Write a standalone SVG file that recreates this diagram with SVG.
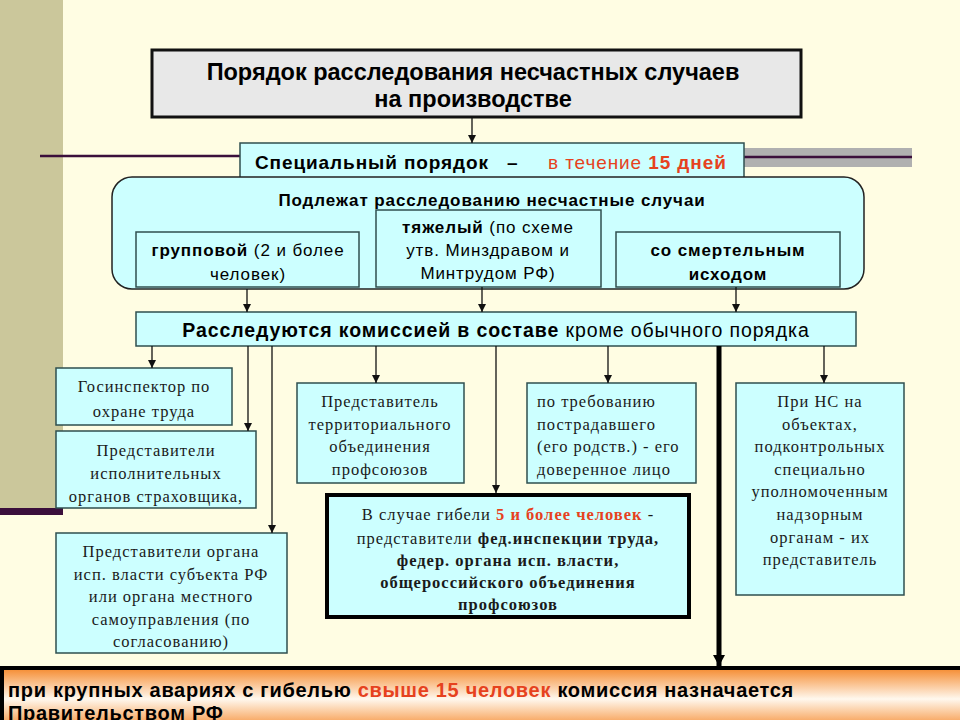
<svg xmlns="http://www.w3.org/2000/svg" width="960" height="720" viewBox="0 0 960 720">
<defs>
<marker id="ah" markerUnits="userSpaceOnUse" markerWidth="9" markerHeight="9" refX="8" refY="4.5" orient="auto"><path d="M0,0.5 L8,4.5 L0,8.5 z" fill="#111"/></marker>
<marker id="ahb" markerUnits="userSpaceOnUse" markerWidth="12" markerHeight="12" refX="11" refY="6" orient="auto"><path d="M0,0 L11,6 L0,12 z" fill="#000"/></marker>
<linearGradient id="og" x1="0" y1="0" x2="0" y2="1">
<stop offset="0" stop-color="#F58A2E"/>
<stop offset="0.5" stop-color="#FFF8EE"/>
<stop offset="1" stop-color="#F58A2E"/>
</linearGradient>
<style>
.sans{font-family:"Liberation Sans",Arial,sans-serif;fill:#000}
.ls{letter-spacing:0.9px}
.serif{font-family:"Liberation Serif","Times New Roman",serif;fill:#1a1a1a;font-size:16.5px;letter-spacing:1px}
.b{font-weight:bold}
.red{fill:#E6421E}
.box{fill:#CCFFFF;stroke:#2F4F4F;stroke-width:1.5}
.con{stroke:#111;stroke-width:1.3;fill:none;marker-end:url(#ah)}
</style>
</defs>
<rect width="960" height="720" fill="#FFFDE3"/>
<rect x="0" y="0" width="63" height="509" fill="#CBC79B"/>
<rect x="0" y="508" width="63" height="7" fill="#3B0F3B"/>
<line x1="40" y1="156" x2="240" y2="156" stroke="#3B0F3B" stroke-width="2.5"/>
<rect x="744" y="148" width="168" height="19" fill="#B0B0B0"/>
<line x1="744" y1="157" x2="912" y2="157" stroke="#3B0F3B" stroke-width="2.5"/>

<g id="title">
<rect x="152" y="50" width="649" height="67" fill="#E8E8E8" stroke="#111" stroke-width="3"/>
<text class="sans b" x="473" y="80" font-size="23.5" text-anchor="middle">Порядок расследования несчастных случаев</text>
<text class="sans b" x="473" y="107" font-size="23.5" text-anchor="middle">на производстве</text>
</g>

<g id="special">
<rect class="box" x="240" y="143" width="504" height="36"/>
<text class="sans b ls" x="255" y="169" font-size="19">Специальный порядок</text>
<text class="sans b" x="507" y="169" font-size="19">–</text>
<text class="sans red ls" x="548" y="169" font-size="19">в течение <tspan class="b red">15 дней</tspan></text>
</g>

<g id="cases">
<rect x="112" y="177" width="752" height="112" rx="20" ry="20" fill="#CCFFFF" stroke="#222" stroke-width="1.5"/>
<text class="sans b ls" x="492" y="206" font-size="17" text-anchor="middle">Подлежат расследованию несчастные случаи</text>
</g>

<g id="group">
<rect class="box" x="136" y="232" width="223" height="55"/>
<text class="sans ls" x="248" y="256" font-size="17" text-anchor="middle"><tspan class="b">групповой</tspan> (2 и более</text>
<text class="sans ls" x="248" y="280" font-size="17" text-anchor="middle">человек)</text>
</g>

<g id="heavy">
<rect class="box" x="376" y="210" width="225" height="77"/>
<text class="sans ls" x="488" y="233" font-size="17" text-anchor="middle"><tspan class="b">тяжелый</tspan> (по схеме</text>
<text class="sans ls" x="488" y="256" font-size="17" text-anchor="middle">утв. Минздравом и</text>
<text class="sans ls" x="488" y="279" font-size="17" text-anchor="middle">Минтрудом РФ)</text>
</g>

<g id="fatal">
<rect class="box" x="616" y="232" width="224" height="55"/>
<text class="sans b ls" x="728" y="256" font-size="17" text-anchor="middle">со смертельным</text>
<text class="sans b ls" x="728" y="280" font-size="17" text-anchor="middle">исходом</text>
</g>

<g id="commission">
<rect class="box" x="136" y="312" width="720" height="34"/>
<text class="sans ls" x="496" y="337" font-size="19.5" text-anchor="middle"><tspan class="b">Расследуются комиссией в составе</tspan> кроме обычного порядка</text>
</g>

<g id="inspector">
<rect class="box" x="56" y="368" width="176" height="57"/>
<text class="serif" x="144" y="392" text-anchor="middle">Госинспектор по</text>
<text class="serif" x="144" y="417" text-anchor="middle">охране труда</text>
</g>

<g id="insurer">
<rect class="box" x="56" y="431" width="200" height="77"/>
<text class="serif" x="156" y="456" text-anchor="middle">Представители</text>
<text class="serif" x="156" y="479" text-anchor="middle">исполнительных</text>
<text class="serif" x="156" y="502" text-anchor="middle">органов страховщика,</text>
</g>

<g id="regional">
<rect class="box" x="56" y="533" width="231" height="120"/>
<text class="serif" x="171" y="557" text-anchor="middle">Представители органа</text>
<text class="serif" x="171" y="580" text-anchor="middle">исп. власти субъекта РФ</text>
<text class="serif" x="171" y="602" text-anchor="middle">или органа местного</text>
<text class="serif" x="171" y="625" text-anchor="middle">самоуправления (по</text>
<text class="serif" x="171" y="647" text-anchor="middle">согласованию)</text>
</g>

<g id="union">
<rect class="box" x="297" y="383" width="167" height="100"/>
<text class="serif" x="380" y="407" text-anchor="middle">Представитель</text>
<text class="serif" x="380" y="430" text-anchor="middle">территориального</text>
<text class="serif" x="380" y="452" text-anchor="middle">объединения</text>
<text class="serif" x="380" y="475" text-anchor="middle">профсоюзов</text>
</g>

<g id="victim">
<rect class="box" x="527" y="383" width="169" height="100"/>
<text class="serif" x="537" y="407">по требованию</text>
<text class="serif" x="537" y="430">пострадавшего</text>
<text class="serif" x="537" y="452">(его родств.) - его</text>
<text class="serif" x="537" y="475">доверенное лицо</text>
</g>

<g id="fatal5">
<rect x="327" y="495" width="362" height="122" fill="#CCFFFF" stroke="#000" stroke-width="4"/>
<text class="serif" x="508" y="520" text-anchor="middle">В случае гибели <tspan class="b red">5 и более человек</tspan> -</text>
<text class="serif" x="508" y="544" text-anchor="middle">представители <tspan class="b">фед.инспекции труда,</tspan></text>
<text class="serif b" x="508" y="566" text-anchor="middle">федер. органа исп. власти,</text>
<text class="serif b" x="508" y="588" text-anchor="middle">общероссийского объединения</text>
<text class="serif b" x="508" y="610" text-anchor="middle">профсоюзов</text>
</g>

<g id="supervision">
<rect class="box" x="736" y="383" width="168" height="212"/>
<text class="serif" x="820" y="407" text-anchor="middle">При НС на</text>
<text class="serif" x="820" y="430" text-anchor="middle">объектах,</text>
<text class="serif" x="820" y="452" text-anchor="middle">подконтрольных</text>
<text class="serif" x="820" y="475" text-anchor="middle">специально</text>
<text class="serif" x="820" y="497" text-anchor="middle">уполномоченным</text>
<text class="serif" x="820" y="520" text-anchor="middle">надзорным</text>
<text class="serif" x="820" y="543" text-anchor="middle">органам - их</text>
<text class="serif" x="820" y="565" text-anchor="middle">представитель</text>
</g>

<g id="government">
<rect x="2" y="668" width="962" height="62" fill="url(#og)" stroke="#000" stroke-width="4"/>
<text class="sans b" x="8" y="697" font-size="20" letter-spacing="0.7">при крупных авариях с гибелью <tspan class="red">свыше 15 человек</tspan> комиссия назначается</text>
<text class="sans b" x="8" y="720" font-size="20" letter-spacing="0.7">Правительством РФ</text>
</g>

<g id="connectors">
<line class="con" x1="472" y1="117" x2="472" y2="143"/>
<line class="con" x1="247" y1="289" x2="247" y2="312"/>
<line class="con" x1="482" y1="287" x2="482" y2="312"/>
<line class="con" x1="736" y1="287" x2="736" y2="312"/>
<line class="con" x1="152" y1="346" x2="152" y2="368"/>
<line class="con" x1="248" y1="346" x2="248" y2="431"/>
<line class="con" x1="272" y1="346" x2="272" y2="533"/>
<line class="con" x1="376" y1="346" x2="376" y2="383"/>
<line class="con" x1="496" y1="346" x2="496" y2="493"/>
<line class="con" x1="608" y1="346" x2="608" y2="383"/>
<line class="con" x1="824" y1="346" x2="824" y2="383"/>
<line x1="719" y1="346" x2="719" y2="666" stroke="#000" stroke-width="5" marker-end="url(#ahb)"/>
</g>
</svg>
